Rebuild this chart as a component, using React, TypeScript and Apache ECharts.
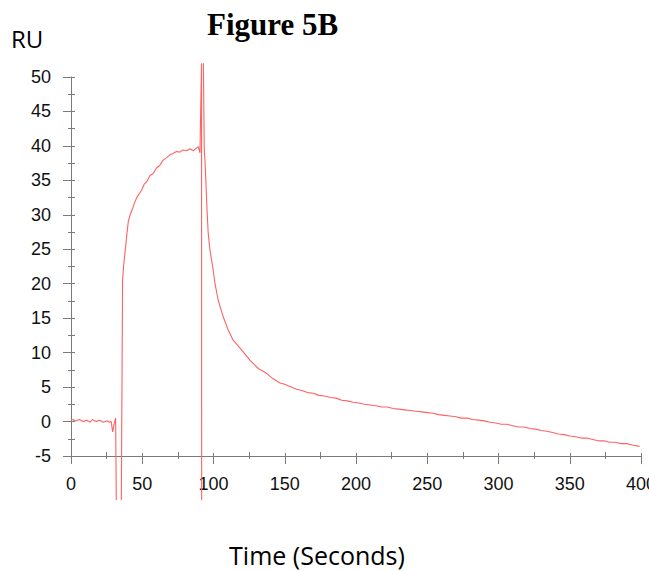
import React, { useEffect, useRef } from "react";
import * as echarts from "echarts";

// Baseline phase (before injection)
const baselineTime = [0, 1.5, 3, 4.5, 6, 7.5, 9, 10.5, 12, 13.5, 15, 16.5, 18, 19.5, 21, 22.5, 24, 25.5, 27, 28.2, 29.2, 30.2, 31.3, 31.8];
const baselineRU = [0.2, 0.3, 0.1, 0.2, 0.3, 0.1, 0.0, 0.2, 0.1, -0.1, 0.3, 0.1, 0.0, 0.2, 0.1, -0.1, 0.0, 0.1, -0.1, 0.0, -1.5, -0.4, 0.5, -11.4];

// Association phase
const assocTime = [35.3, 36.2, 37.0, 37.9, 39.0, 40.2, 41.5, 43.0, 44.5, 46.1, 48.0, 49.6, 51.5, 53.1, 55.5, 57.7, 60.0, 62.4, 64.5, 67.1, 69.5, 71.7, 74.0, 76.4, 78.5, 81.1, 83.5, 85.8, 87.5, 89.3, 90.5, 91.6, 91.7];
const assocRU = [-11.4, 20.5, 22.8, 24.5, 26.8, 29.0, 30.0, 30.8, 31.7, 32.5, 33.1, 33.6, 34.5, 34.8, 35.7, 36.0, 36.8, 37.2, 37.9, 38.3, 38.7, 38.9, 39.2, 39.1, 39.4, 39.3, 39.6, 39.3, 39.6, 39.9, 39.0, 52, -11.4];

// Dissociation phase
const dissocTime = [92.9, 93.5, 94.0, 94.7, 95.5, 96.3, 97.5, 99.4, 101.0, 103.3, 106.8, 110.3, 113.8, 119.7, 125.5, 131.4, 137.2, 141.9, 146.6, 150, 153.6, 158.3, 162, 166, 170, 174, 178, 182, 186, 190, 194, 198, 202, 206, 210, 214, 218, 222, 226, 230, 234, 238, 242, 246, 250, 254, 258, 262, 266, 270, 274, 278, 282, 286, 290, 294, 298, 302, 306, 310, 314, 318, 322, 326, 330, 334, 338, 342, 346, 350, 354, 358, 362, 366, 370, 374, 378, 382, 386, 390, 394, 399];
const dissocRU = [52, 39.5, 38.0, 34.6, 30.5, 27.3, 24.9, 22.5, 20.1, 17.6, 15.2, 13.3, 11.8, 10.4, 8.9, 7.7, 7.0, 6.2, 5.6, 5.4, 5.1, 4.7, 4.5, 4.2, 4.1, 3.8, 3.7, 3.5, 3.4, 3.1, 3.0, 2.8, 2.7, 2.5, 2.4, 2.3, 2.1, 2.1, 1.9, 1.8, 1.7, 1.6, 1.5, 1.4, 1.3, 1.2, 1.0, 0.9, 0.8, 0.7, 0.5, 0.5, 0.3, 0.2, 0.1, -0.1, -0.2, -0.4, -0.4, -0.6, -0.8, -0.8, -1.0, -1.1, -1.3, -1.4, -1.6, -1.8, -1.9, -2.1, -2.2, -2.4, -2.4, -2.6, -2.8, -2.8, -3.0, -3.0, -3.2, -3.2, -3.4, -3.6];

// Axis ticks
const xTicks = { min: 0, max: 400, interval: 50 };
const yTicks = { min: -5, max: 50, interval: 5 };

const LINE_COLOR = "#ff6262";
const AXIS_COLOR = "#7a7a7a";

function pairs(t: number[], v: number[]) {
  return t.map((x, i) => [x, v[i]]);
}

export default function App() {
  const ref = useRef<HTMLDivElement>(null);
  useEffect(() => {
    if (!ref.current) return;
    const chart = echarts.init(ref.current, null, { renderer: "svg", width: 649, height: 571 });
    const seriesBase = {
      type: "line" as const,
      showSymbol: false,
      clip: false,
      xAxisIndex: 0,
      yAxisIndex: 0,
      lineStyle: { color: LINE_COLOR, width: 1.1 },
      itemStyle: { color: LINE_COLOR },
    };
    chart.setOption({
      animation: false,
      backgroundColor: "#fff",
      grid: {
        left: 71,
        width: 570,
        top: 77,
        height: 379,
        containLabel: false,
        outerBoundsMode: "none",
      },
      xAxis: [
        {
          type: "value",
          min: xTicks.min,
          max: xTicks.max,
          interval: xTicks.interval,
          position: "bottom",
          axisLine: { show: true, onZero: false, lineStyle: { color: AXIS_COLOR, width: 1 } },
          axisTick: { show: true, inside: false, length: 8, lineStyle: { color: AXIS_COLOR } },
          minorTick: { show: true, splitNumber: 2, length: 3, lineStyle: { color: AXIS_COLOR } },
          axisLabel: { color: "#111", fontSize: 18, fontFamily: "Liberation Sans", margin: 19, hideOverlap: false },
          splitLine: { show: false },
        },
        {
          type: "value",
          min: xTicks.min,
          max: xTicks.max,
          interval: xTicks.interval,
          position: "bottom",
          axisLine: { show: false, onZero: false },
          axisTick: { show: true, inside: true, length: 3, lineStyle: { color: AXIS_COLOR } },
          minorTick: { show: true, splitNumber: 2, length: 4, lineStyle: { color: AXIS_COLOR } },
          axisLabel: { show: false },
          splitLine: { show: false },
        },
      ],
      yAxis: [
        {
          type: "value",
          min: yTicks.min,
          max: yTicks.max,
          interval: yTicks.interval,
          position: "left",
          axisLine: { show: true, onZero: false, lineStyle: { color: AXIS_COLOR, width: 1 } },
          axisTick: { show: true, inside: false, length: 8, lineStyle: { color: AXIS_COLOR } },
          minorTick: { show: true, splitNumber: 2, length: 3, lineStyle: { color: AXIS_COLOR } },
          axisLabel: { color: "#111", fontSize: 18, fontFamily: "Liberation Sans", margin: 20 },
          splitLine: { show: false },
        },
        {
          type: "value",
          min: yTicks.min,
          max: yTicks.max,
          interval: yTicks.interval,
          position: "left",
          offset: 0,
          axisLine: { show: false, onZero: false },
          axisTick: { show: true, inside: true, length: 4, lineStyle: { color: AXIS_COLOR } },
          minorTick: { show: true, splitNumber: 2, length: 4, lineStyle: { color: AXIS_COLOR } },
          axisLabel: { show: false },
          splitLine: { show: false },
        },
      ],
      series: [
        { ...seriesBase, name: "baseline", data: pairs(baselineTime, baselineRU) },
        { ...seriesBase, name: "association", data: pairs(assocTime, assocRU) },
        { ...seriesBase, name: "dissociation", data: pairs(dissocTime, dissocRU) },
      ],
      graphic: [
        {
          type: "text",
          x: 207,
          y: 24,
          style: {
            text: "Figure 5B",
            font: 'bold 31px "Liberation Serif"',
            fill: "#000",
            align: "left",
            verticalAlign: "middle",
          },
        },
        {
          type: "text",
          x: 11,
          y: 38,
          style: {
            text: "RU",
            font: '24px "Open Sans"',
            fill: "#000",
            align: "left",
            verticalAlign: "middle",
          },
        },
        {
          type: "text",
          x: 317,
          y: 555,
          style: {
            text: "Time (Seconds)",
            font: '25px "Open Sans"',
            fill: "#000",
            align: "center",
            verticalAlign: "middle",
          },
        },
      ],
    });
    return () => chart.dispose();
  }, []);
  return (
    <div
      ref={ref}
      style={{ position: "fixed", left: 0, top: 0, width: 649, height: 571, background: "#fff" }}
    />
  );
}
